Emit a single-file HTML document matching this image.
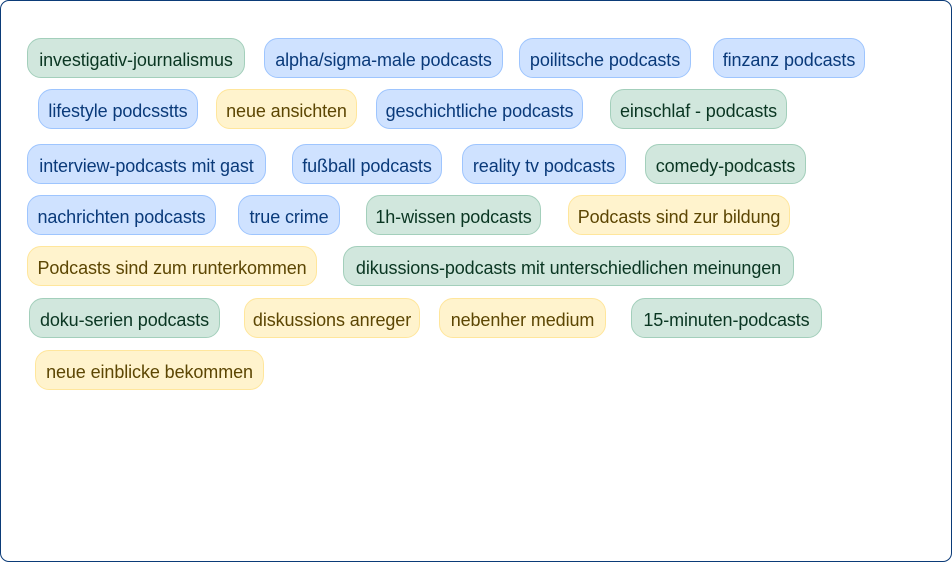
<!DOCTYPE html>
<html><head><meta charset="utf-8"><style>
html,body{margin:0;padding:0;background:#fff;}
.frame{position:absolute;left:0;top:0;width:950px;height:560px;border:1px solid #0b3b78;border-radius:9px;background:#fff;overflow:hidden;}
.p{position:absolute;height:40px;line-height:42px;border:1px solid;border-radius:14px;box-sizing:border-box;text-align:center;white-space:nowrap;font-family:"Liberation Sans",sans-serif;font-size:18px;letter-spacing:-0.1px;}
.g{background:#d1e7dd;border-color:#a3cfbb;color:#0a3622;}
.b{background:#cfe2ff;border-color:#9ec5fe;color:#0a3a7a;}
.y{background:#fff3cd;border-color:#ffe69c;color:#5c4603;}
</style></head><body><div class="frame">
<div class="p g" style="left:26px;top:37px;width:218px">investigativ-journalismus</div>
<div class="p b" style="left:263px;top:37px;width:239px">alpha/sigma-male podcasts</div>
<div class="p b" style="left:518px;top:37px;width:172px">poilitsche podcasts</div>
<div class="p b" style="left:712px;top:37px;width:152px">finzanz podcasts</div>
<div class="p b" style="left:37px;top:88px;width:160px">lifestyle podcsstts</div>
<div class="p y" style="left:215px;top:88px;width:141px">neue ansichten</div>
<div class="p b" style="left:375px;top:88px;width:207px">geschichtliche podcasts</div>
<div class="p g" style="left:609px;top:88px;width:177px">einschlaf - podcasts</div>
<div class="p b" style="left:26px;top:143px;width:239px">interview-podcasts mit gast</div>
<div class="p b" style="left:291px;top:143px;width:150px">fußball podcasts</div>
<div class="p b" style="left:461px;top:143px;width:164px">reality tv podcasts</div>
<div class="p g" style="left:644px;top:143px;width:161px">comedy-podcasts</div>
<div class="p b" style="left:26px;top:194px;width:189px">nachrichten podcasts</div>
<div class="p b" style="left:237px;top:194px;width:102px">true crime</div>
<div class="p g" style="left:365px;top:194px;width:175px">1h-wissen podcasts</div>
<div class="p y" style="left:567px;top:194px;width:222px">Podcasts sind zur bildung</div>
<div class="p y" style="left:26px;top:245px;width:290px">Podcasts sind zum runterkommen</div>
<div class="p g" style="left:342px;top:245px;width:451px">dikussions-podcasts mit unterschiedlichen meinungen</div>
<div class="p g" style="left:28px;top:297px;width:191px">doku-serien podcasts</div>
<div class="p y" style="left:243px;top:297px;width:176px">diskussions anreger</div>
<div class="p y" style="left:438px;top:297px;width:167px">nebenher medium</div>
<div class="p g" style="left:630px;top:297px;width:191px">15-minuten-podcasts</div>
<div class="p y" style="left:34px;top:349px;width:229px">neue einblicke bekommen</div>
</div></body></html>
